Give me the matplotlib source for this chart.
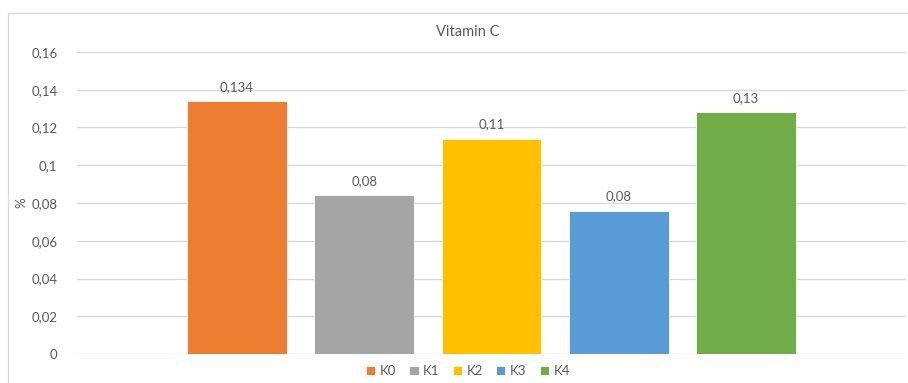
import matplotlib
matplotlib.use("Agg")
import matplotlib.pyplot as plt
from matplotlib.patches import Rectangle
from matplotlib.ticker import FuncFormatter, MultipleLocator

# Vitamin C content per treatment
series = ["K0", "K1", "K2", "K3", "K4"]
values = [0.134, 0.084, 0.114, 0.076, 0.128]
label_decimals = [3, 2, 2, 2, 2]
colors = ["#ED7D31", "#A5A5A5", "#FFC000", "#5B9BD5", "#70AD47"]

W, H = 908, 383
fig = plt.figure(figsize=(W / 100, H / 100), dpi=100)
plt.rcParams["font.family"] = ["Lato", "DejaVu Sans"]
text_color = "#595959"
grid_color = "#D9D9D9"

# chart area frame
fig.patches.append(Rectangle((8 / W, -0.2), 1.2, 1.2 - 13 / H,
                             transform=fig.transFigure, fill=False,
                             edgecolor=grid_color, linewidth=1.0))

ax = fig.add_axes([77 / W, 1 - 354 / H, (906 - 77) / W, (354 - 52) / H])
xs = list(range(len(series)))
bars = ax.bar(xs, values, width=0.784, color=colors, edgecolor="white",
              linewidth=0.6, label=series, zorder=3)

for x, v, d in zip(xs, values, label_decimals):
    ax.annotate(f"{v:.{d}f}".replace(".", ","), (x, v), xytext=(0, 6),
                textcoords="offset points", ha="center", va="bottom",
                fontsize=9.5, color=text_color)

ax.set_xlim(-1.255, len(series) - 1 + 1.255)
ax.set_ylim(0, 0.16)
ax.yaxis.set_major_locator(MultipleLocator(0.02))
ax.yaxis.set_major_formatter(FuncFormatter(
    lambda v, p: f"{round(v, 4):g}".replace(".", ",")))
ax.tick_params(axis="y", length=0, labelsize=9.5, labelcolor=text_color, pad=14)
ax.set_xticks([])
ax.grid(axis="y", color=grid_color, linewidth=1.0, zorder=0)
for s in ax.spines.values():
    s.set_visible(False)
ax.set_ylabel("%", fontsize=9.5, color=text_color, labelpad=2)
ax.yaxis.set_label_coords(-50 / (906 - 77), 0.5)

fig.text(468 / W, 1 - 32 / H, "Vitamin C", ha="center", va="center",
         fontsize=10.5, color=text_color)

fig.legend(bars, series, loc="center", bbox_to_anchor=(468 / W, 1 - 371 / H),
           ncol=5, frameon=False, fontsize=9.5, labelcolor=text_color,
           handlelength=0.7, handleheight=0.7, handletextpad=0.35,
           columnspacing=1.0, borderaxespad=0)

fig.savefig("out.png", dpi=100)
